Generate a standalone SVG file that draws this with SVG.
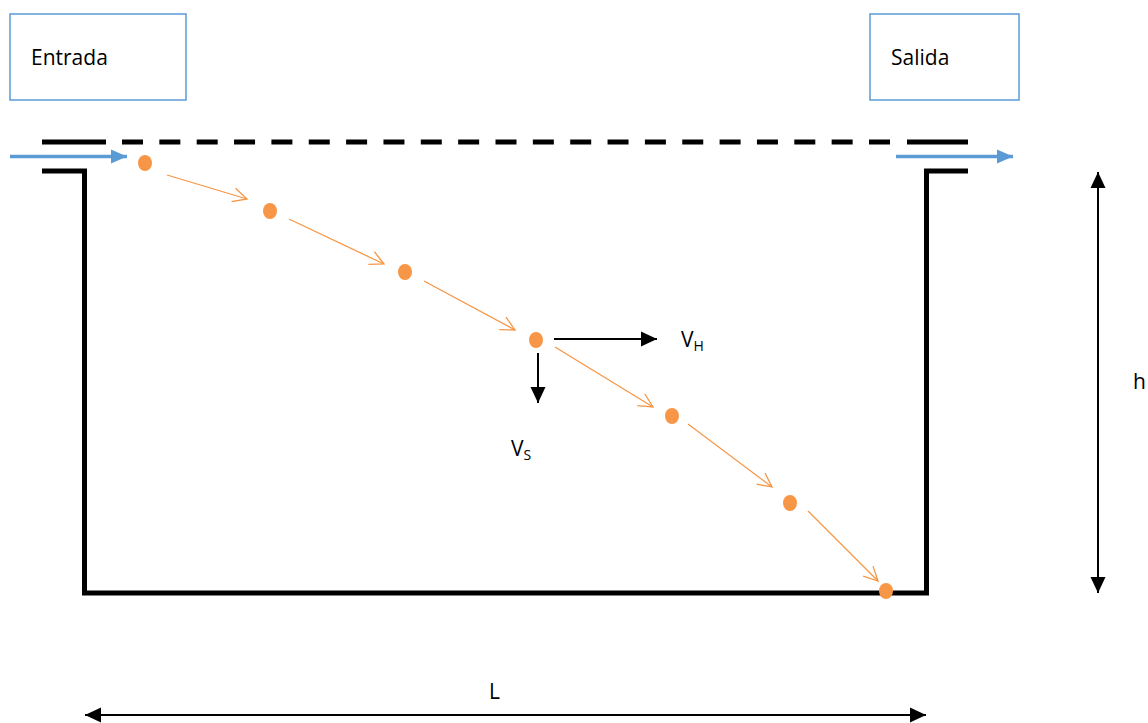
<svg xmlns="http://www.w3.org/2000/svg" width="1148" height="723" viewBox="0 0 1148 723">
<style>
.box{fill:#fff;stroke:#5B9BD5;stroke-width:1.5}
.lbl{font-family:"Open Sans","Liberation Sans",sans-serif;font-size:21px;fill:#000}
.sub{font-size:14px}
.wall{fill:none;stroke:#000;stroke-width:5}
.flow{stroke:#5B9BD5;stroke-width:3.5;fill:none}
.traj{stroke:#F79646;stroke-width:1.3;fill:none;marker-end:url(#open)}
.dot{fill:#F79646}
.blk{stroke:#000;stroke-width:2;fill:none}
</style>
<defs>
<marker id="open" viewBox="0 0 16 16" refX="15" refY="8" markerWidth="16" markerHeight="16" markerUnits="userSpaceOnUse" orient="auto">
<path d="M1,1 L15,8 L1,15" fill="none" stroke="#F79646" stroke-width="1.3"/>
</marker>
<marker id="bh" viewBox="0 0 16 16" refX="16" refY="8" markerWidth="16" markerHeight="16" markerUnits="userSpaceOnUse" orient="auto-start-reverse">
<path d="M0,0.5 L16,8 L0,15.5 Z" fill="#000"/>
</marker>
<marker id="blue" viewBox="0 0 16 16" refX="16" refY="8" markerWidth="16" markerHeight="16" markerUnits="userSpaceOnUse" orient="auto">
<path d="M0,1 L16,8 L0,15 Z" fill="#5B9BD5"/>
</marker>
</defs>
<rect width="1148" height="723" fill="#fff"/>

<g id="entrada">
<rect class="box" x="10" y="14" width="176" height="86"/>
<text class="lbl" x="31" y="65">Entrada</text>
</g>
<g id="salida">
<rect class="box" x="870" y="14" width="149" height="86"/>
<text class="lbl" x="891" y="65">Salida</text>
</g>

<g id="tank">
<line x1="42" y1="142" x2="106" y2="142" stroke="#000" stroke-width="5"/>
<line x1="122" y1="142" x2="890" y2="142" stroke="#000" stroke-width="5" stroke-dasharray="21 16.35"/>
<line x1="907" y1="142" x2="968" y2="142" stroke="#000" stroke-width="5"/>
<path class="wall" d="M42,171 H84.5 V593 H926.5 V171 H968"/>
</g>

<g id="particles">
<ellipse class="dot" cx="145" cy="163" rx="7" ry="8"/>
<ellipse class="dot" cx="270" cy="211" rx="7" ry="8"/>
<ellipse class="dot" cx="405" cy="272" rx="7" ry="8"/>
<ellipse class="dot" cx="536" cy="340" rx="7" ry="8"/>
<ellipse class="dot" cx="672" cy="416" rx="7" ry="8"/>
<ellipse class="dot" cx="790" cy="503" rx="7" ry="8"/>
<ellipse class="dot" cx="886" cy="591" rx="7" ry="8"/>
</g>

<g id="connectors">
<line class="flow" x1="10" y1="156.5" x2="127" y2="156.5" marker-end="url(#blue)"/>
<line class="flow" x1="896" y1="156.5" x2="1013" y2="156.5" marker-end="url(#blue)"/>
<line class="traj" x1="167" y1="175" x2="247" y2="199"/>
<line class="traj" x1="289" y1="219" x2="384" y2="264"/>
<line class="traj" x1="424" y1="281" x2="515" y2="330"/>
<line class="traj" x1="555" y1="347" x2="653" y2="407"/>
<line class="traj" x1="688" y1="424" x2="772" y2="487"/>
<line class="traj" x1="808" y1="511" x2="878" y2="581"/>
<line class="blk" x1="554" y1="339" x2="657" y2="339" marker-end="url(#bh)"/>
<line class="blk" x1="538" y1="353" x2="538" y2="403" marker-end="url(#bh)"/>
<line class="blk" x1="1098" y1="172" x2="1098" y2="593" marker-start="url(#bh)" marker-end="url(#bh)"/>
<line class="blk" x1="85" y1="715" x2="926" y2="715" marker-start="url(#bh)" marker-end="url(#bh)"/>
</g>

<g id="labels">
<text class="lbl" x="681" y="347">V<tspan class="sub" dy="4">H</tspan></text>
<text class="lbl" x="511" y="456">V<tspan class="sub" dy="4">S</tspan></text>
<text class="lbl" x="1133" y="389">h</text>
<text class="lbl" x="489" y="699">L</text>
</g>
</svg>
